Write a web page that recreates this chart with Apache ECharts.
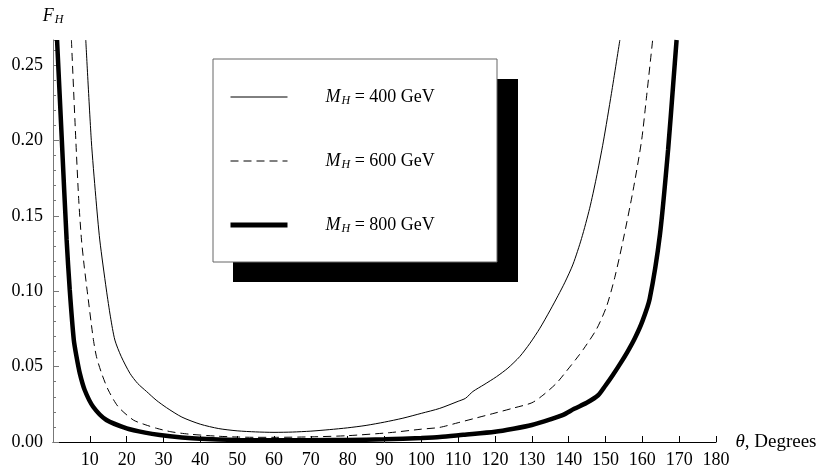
<!DOCTYPE html>
<html>
<head>
<meta charset="utf-8">
<script src="https://cdn.jsdelivr.net/npm/echarts@6/dist/echarts.min.js"></script>
<style>html,body{margin:0;padding:0;background:#fff}#c{width:824px;height:469px}</style>
</head>
<body>
<div id="c"></div>
<script>
// ---- data ----
var xTicks = [0, 10, 20, 30, 40, 50, 60, 70, 80, 90, 100, 110, 120, 130, 140, 150, 160, 170, 180];
var yTicks = [0.00, 0.05, 0.10, 0.15, 0.20, 0.25];

var names = ['M_H = 400 GeV', 'M_H = 600 GeV', 'M_H = 800 GeV'];

var theta400 = [8.9, 10.4, 11.6, 12.7, 14.5, 15.6, 16.8, 18.5, 20.9, 23, 25.4, 28, 30.8, 35, 40, 45, 50, 55, 60, 65, 70, 75, 80, 85, 90, 95, 100, 105, 110, 112, 114, 117, 120.4, 123.5, 126.7, 129.5, 132.2, 135, 137.1, 139, 141.2, 143.5, 145.7, 147.5, 149.4, 151.6, 153.9];
var f400 = [0.2666, 0.200, 0.163, 0.134, 0.1008, 0.083, 0.0676, 0.0568, 0.0455, 0.0388, 0.0335, 0.0278, 0.0228, 0.0165, 0.0118, 0.0089, 0.0074, 0.0067, 0.0064, 0.0066, 0.0072, 0.0082, 0.0094, 0.011, 0.0132, 0.0158, 0.019, 0.0223, 0.027, 0.029, 0.0335, 0.038, 0.0433, 0.049, 0.0566, 0.0655, 0.0755, 0.0875, 0.097, 0.106, 0.118, 0.135, 0.155, 0.175, 0.199, 0.231, 0.2666];

var theta600 = [5.0, 6.2, 7.0, 7.74, 8.5, 9.3, 10.9, 11.8, 13.2, 15, 17.7, 21.8, 25, 28.1, 32, 37, 45, 50, 55, 60, 70, 80, 91.4, 100, 105, 110, 115, 120, 125, 130, 133, 136.7, 139.4, 142, 144, 147.6, 150.3, 152.5, 154.8, 157.5, 159.8, 161.1, 162.8];
var f600 = [0.2666, 0.200, 0.160, 0.134, 0.116, 0.100, 0.069, 0.0566, 0.0455, 0.0345, 0.0234, 0.0146, 0.0115, 0.0091, 0.0068, 0.0052, 0.0038, 0.0033, 0.0031, 0.0031, 0.0034, 0.0042, 0.0062, 0.0085, 0.0097, 0.0128, 0.016, 0.0192, 0.0225, 0.026, 0.031, 0.039, 0.047, 0.055, 0.0615, 0.075, 0.090, 0.109, 0.134, 0.167, 0.200, 0.228, 0.2666];

var theta800 = [1.1, 2.4, 3.7, 4.55, 5.65, 6.38, 7.28, 8.6, 10.9, 14.5, 20, 25, 29, 35, 40, 50, 60, 70, 80, 90, 100, 105, 111.4, 120, 125, 130, 135, 138.5, 141.5, 144.9, 148, 150, 152, 154, 156, 158, 160, 162, 164.8, 167, 168.4, 169.3];
var f800 = [0.2666, 0.200, 0.134, 0.1008, 0.0676, 0.0566, 0.0455, 0.0345, 0.0234, 0.0146, 0.0091, 0.0062, 0.0046, 0.003, 0.0021, 0.0013, 0.0011, 0.0012, 0.0014, 0.0018, 0.0027, 0.0033, 0.0048, 0.0068, 0.0088, 0.0113, 0.015, 0.018, 0.022, 0.026, 0.031, 0.0375, 0.0445, 0.052, 0.060, 0.069, 0.080, 0.095, 0.138, 0.194, 0.238, 0.2666];

function pairs(xs, ys) { return xs.map(function (x, i) { return [x, ys[i]]; }); }

var serif = '"Liberation Serif", "Times New Roman", serif';
var chart = echarts.init(document.getElementById('c'), null, { renderer: 'canvas' });

var legendLabels = {};
legendLabels[names[0]] = '{sp|}{m|M}{s|H}{t| = 400 GeV}';
legendLabels[names[1]] = '{sp|}{m|M}{s|H}{t| = 600 GeV}';
legendLabels[names[2]] = '{sp|}{m|M}{s|H}{t| = 800 GeV}';

chart.setOption({
  animation: false,
  backgroundColor: '#fff',
  grid: { left: 53, right: 108, top: 40, bottom: 27, containLabel: false },
  graphic: [
    { type: 'rect', z: 3, shape: { x: 233, y: 79, width: 285, height: 203 }, style: { fill: '#000' } },
    { type: 'rect', z: 3, shape: { x: 213, y: 59, width: 284, height: 203 }, style: { fill: '#fff', stroke: '#666', lineWidth: 1 } }
  ],
  xAxis: {
    type: 'value', min: 0, max: 180, interval: 10,
    name: '{i|θ}, Degrees', nameLocation: 'end', nameGap: 18,
    nameTextStyle: { fontFamily: serif, fontSize: 19, color: '#000', rich: { i: { fontStyle: 'italic', fontFamily: serif, fontSize: 19, color: '#000' } } },
    axisLine: { show: true, lineStyle: { color: '#000', width: 1 } },
    axisTick: { show: true, inside: true, length: 6, lineStyle: { color: '#000' } },
    axisLabel: { showMinLabel: false, fontFamily: serif, fontSize: 18, color: '#000', margin: 9,
      formatter: function (v) { return String(v); } },
    splitLine: { show: false }
  },
  yAxis: {
    type: 'value', min: 0, max: 0.2666, interval: 0.05,
    name: '{f|F}{h|H}', nameLocation: 'end', nameGap: 14,
    nameTextStyle: { rich: { f: { fontStyle: 'italic', fontFamily: serif, fontSize: 18, color: '#000' },
                             h: { fontStyle: 'italic', fontFamily: serif, fontSize: 12, color: '#000', padding: [8, 0, 0, 1] } } },
    axisLine: { show: true, lineStyle: { color: '#777', width: 1 } },
    axisTick: { show: true, inside: true, length: 6, lineStyle: { color: '#777' } },
    minorTick: { show: true, splitNumber: 5, length: 3, lineStyle: { color: '#777' } },
    axisLabel: { showMaxLabel: false, fontFamily: serif, fontSize: 18, color: '#000', margin: 10,
      formatter: function (v) { return v.toFixed(2); } },
    splitLine: { show: false }
  },
  legend: {
    z: 4,
    orient: 'vertical', left: 213, top: 59,
    data: [
      { name: names[0], lineStyle: { width: 1, color: '#000' } },
      { name: names[1], lineStyle: { width: 1, color: '#000', type: [8, 5] } },
      { name: names[2], lineStyle: { width: 5, color: '#000' } }
    ],
    padding: [29, 47, 29, 15],
    itemWidth: 57, itemHeight: 20, itemGap: 45,
    itemStyle: { opacity: 0 },
    formatter: function (n) { return legendLabels[n]; },
    textStyle: {
      fontFamily: serif, fontSize: 18, color: '#000',
      rich: {
        sp: { width: 33 },
        m: { fontStyle: 'italic', fontFamily: serif, fontSize: 18, color: '#000' },
        s: { fontStyle: 'italic', fontFamily: serif, fontSize: 12, color: '#000', padding: [8, 0, 0, 1] },
        t: { fontFamily: serif, fontSize: 18, color: '#000' }
      }
    }
  },
  series: [
    { name: names[0], type: 'line', data: pairs(theta400, f400), showSymbol: false, symbol: 'none', smooth: 0.25,
      lineStyle: { color: '#000', width: 1 }, itemStyle: { color: '#000' } },
    { name: names[1], type: 'line', data: pairs(theta600, f600), showSymbol: false, symbol: 'none', smooth: 0.25,
      lineStyle: { color: '#000', width: 1, type: [8, 5] }, itemStyle: { color: '#000' } },
    { name: names[2], type: 'line', data: pairs(theta800, f800), showSymbol: false, symbol: 'none', smooth: 0.25,
      lineStyle: { color: '#000', width: 4.5 }, itemStyle: { color: '#000' } }
  ]
});
</script>
</body>
</html>
